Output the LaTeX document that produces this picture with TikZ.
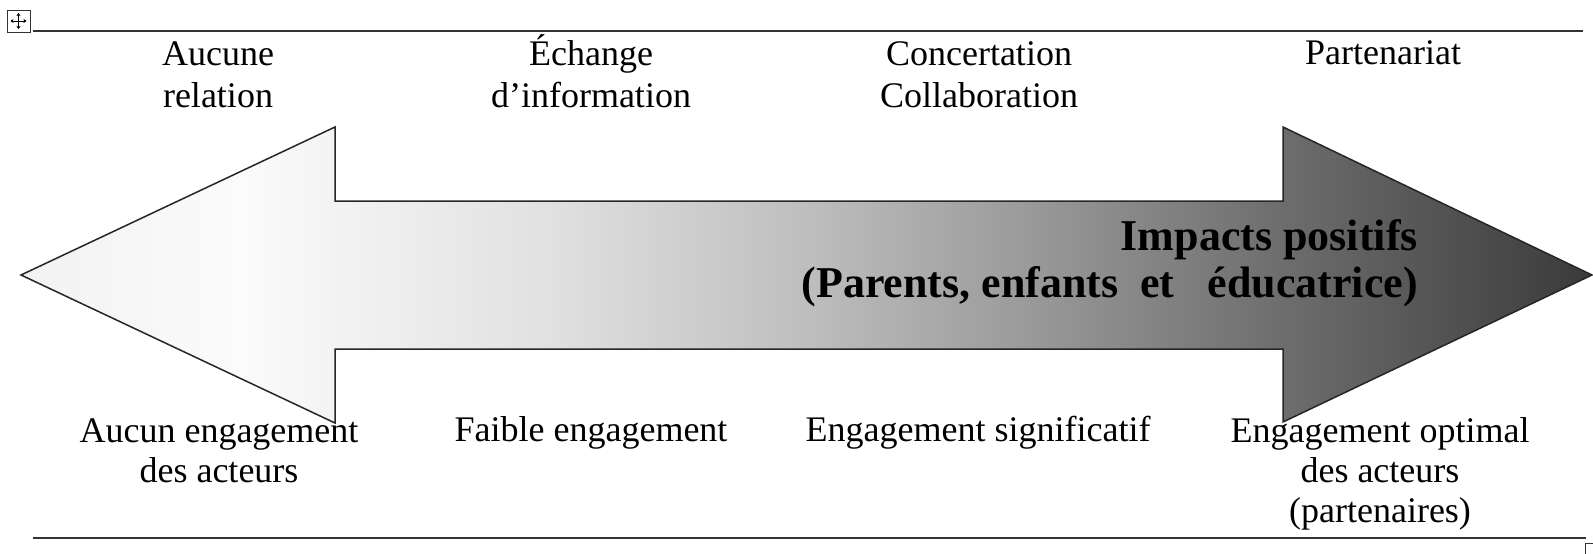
\documentclass[tikz,border=0pt]{standalone}
\usepackage{fontspec}
\setmainfont{Liberation Serif}
\newfontfamily\labfont{Liberation Serif}
\newfontfamily\boldfont{Liberation Serif Bold}
\usetikzlibrary{arrows.meta}
\definecolor{sA}{HTML}{F2F2F2}
\definecolor{sB}{HTML}{FBFBFB}
\definecolor{sC}{HTML}{E0E0E0}
\definecolor{sD}{HTML}{BEBEBE}
\definecolor{sE}{HTML}{9A9A9A}
\definecolor{sF}{HTML}{6E6E6E}
\definecolor{sG}{HTML}{3A3A3A}
\definecolor{rule}{HTML}{333333}
\pgfdeclarehorizontalshading{arrowshade}{100bp}{color(0bp)=(sA); color(25bp)=(sA); color(32bp)=(sB); color(42bp)=(sC); color(50bp)=(sD); color(57bp)=(sE); color(65bp)=(sF); color(75bp)=(sG); color(100bp)=(sG)}
\tikzset{
  lab/.style={font=\labfont\fontsize{36}{42}\selectfont, align=center, inner sep=0pt, anchor=base},
  labb/.style={font=\labfont\fontsize{36}{40}\selectfont, align=center, inner sep=0pt, anchor=base},
  bold/.style={font=\boldfont\fontsize{44}{47}\selectfont, align=right, inner sep=0pt, anchor=base east},
  rulefmt/.style={draw=rule, line width=2pt},
  bigarrow/.style={draw=black!85, line width=1.5pt, shading=arrowshade, line join=miter}
}
\begin{document}
\begin{tikzpicture}[x=1pt,y=-1pt]
\useasboundingbox (0,0) rectangle (1593,554);
% rules
\coordinate (tl) at (33,31); \coordinate (tr) at (1583,31);
\coordinate (bl) at (33,538); \coordinate (br) at (1586,538);
\draw[rulefmt] (tl) -- (tr);
\draw[rulefmt] (bl) -- (br);
% table handles
\draw[black!80, line width=1pt] (7,10) rectangle (30,32);
\draw[black, line width=0.8pt, -{Stealth[length=3pt,width=4pt]}] (18.5,21) -- (18.5,13);
\draw[black, line width=0.8pt, -{Stealth[length=3pt,width=4pt]}] (18.5,21) -- (18.5,29);
\draw[black, line width=0.8pt, -{Stealth[length=3pt,width=4pt]}] (18.5,21) -- (10.5,21);
\draw[black, line width=0.8pt, -{Stealth[length=3pt,width=4pt]}] (18.5,21) -- (26.5,21);
\draw[black!80, line width=1pt] (1585,543) rectangle (1600,560);
% big double arrow
\path[bigarrow] (21,275) -- (335,127) -- (335,201) -- (1283,201) -- (1283,127) -- (1592,275) -- (1283,422) -- (1283,349) -- (335,349) -- (335,423) -- cycle;
% top labels (anchor = baseline of last line)
\node[lab] (t1) at (218,107) {Aucune\\relation};
\node[lab] (t2) at (591,107) {Échange\\d’information};
\node[lab] (t3) at (979,107) {Concertation\\Collaboration};
\node[lab] (t4) at (1383,64) {Partenariat};
% bottom labels
\node[labb] (b1) at (219,482) {Aucun engagement\\des acteurs};
\node[labb] (b2) at (591,441) {Faible engagement};
\node[labb] (b3) at (978,441) {Engagement significatif};
\node[labb] (b4) at (1380,522) {Engagement optimal\\des acteurs\\(partenaires)};
% central text
\node[bold] (imp) at (1418,297) {Impacts positifs\\(Parents, enfants\ \ et\ \ \ éducatrice)};
\end{tikzpicture}
\end{document}
